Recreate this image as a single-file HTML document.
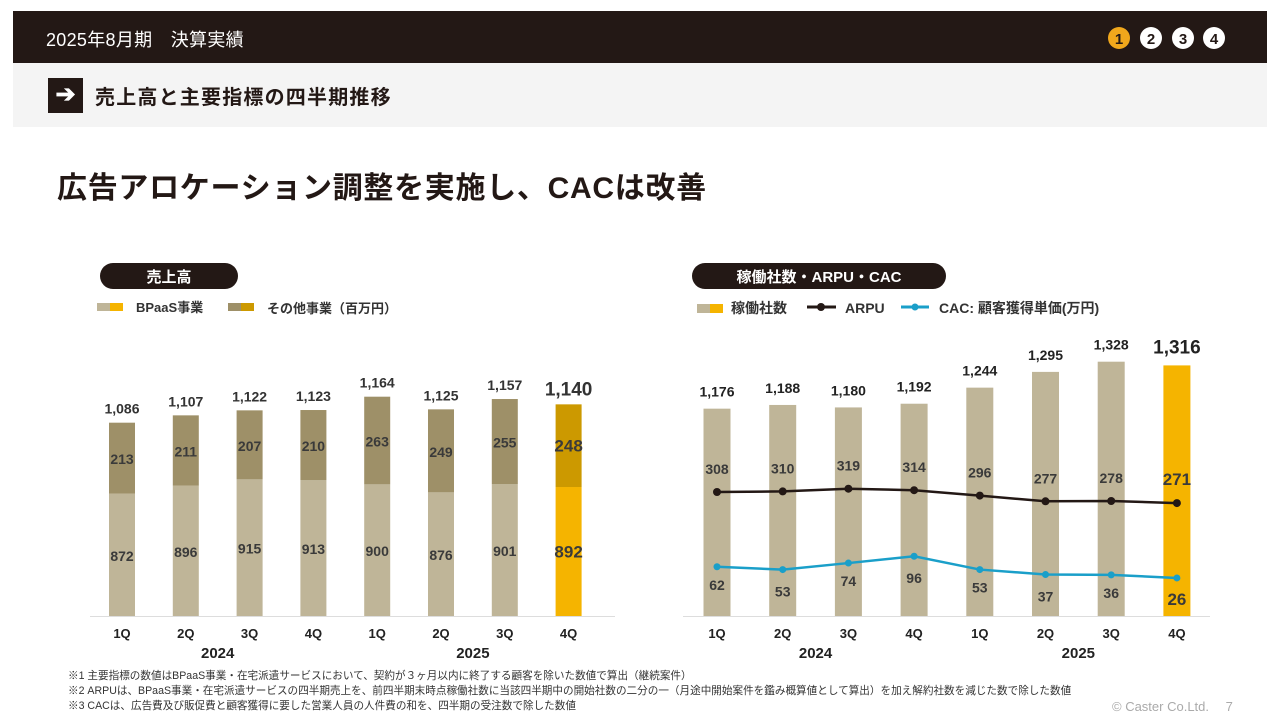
<!DOCTYPE html>
<html><head><meta charset="utf-8">
<style>
body{margin:0;width:1280px;height:720px;background:#fff;font-family:"Liberation Sans","Noto Sans CJK JP",sans-serif;overflow:hidden;position:relative}
.abs{position:absolute}
</style></head><body>
<div class="abs" style="left:13px;top:11px;width:1254px;height:52px;background:#231815"></div>
<div class="abs" style="left:46px;top:26px;color:#fff;font-size:18px;letter-spacing:0.3px">2025年8月期　決算実績</div>
<svg class="abs" style="left:1100px;top:24px" width="130" height="28">
<circle cx="19" cy="14" r="11" fill="#f0a71c"/><text x="19" y="20" text-anchor="middle" font-size="15" font-weight="bold" fill="#231815">1</text>
<circle cx="51" cy="14" r="11" fill="#fff"/><text x="51" y="20" text-anchor="middle" font-size="15" font-weight="bold" fill="#231815">2</text>
<circle cx="83" cy="14" r="11" fill="#fff"/><text x="83" y="20" text-anchor="middle" font-size="15" font-weight="bold" fill="#231815">3</text>
<circle cx="114" cy="14" r="11" fill="#fff"/><text x="114" y="20" text-anchor="middle" font-size="15" font-weight="bold" fill="#231815">4</text>
</svg>
<div class="abs" style="left:13px;top:63px;width:1254px;height:64px;background:#f4f4f4"></div>
<div class="abs" style="left:48px;top:78px;width:35px;height:35px;background:#231815;color:#fff;font-size:24px;font-weight:bold;text-align:center;line-height:34px">➔</div>
<div class="abs" style="left:95px;top:81px;font-size:20px;font-weight:bold;color:#231815;letter-spacing:1.2px">売上高と主要指標の四半期推移</div>
<div class="abs" style="left:57px;top:163px;font-size:30px;font-weight:bold;color:#231815;letter-spacing:0.7px">広告アロケーション調整を実施し、CACは改善</div>

<svg class="abs" style="left:0;top:0" width="1280" height="720" id="charts">
<rect x="100" y="263" width="138" height="26" rx="13" fill="#231815"/>
<text x="169" y="282" text-anchor="middle" fill="#fff" font-size="15" font-weight="bold">売上高</text>
<rect x="692" y="263" width="254" height="26" rx="13" fill="#231815"/>
<text x="819" y="282" text-anchor="middle" fill="#fff" font-size="15" font-weight="bold">稼働社数・ARPU・CAC</text>
<g font-size="13" font-weight="bold" fill="#333">
<rect x="97" y="303" width="13" height="8" fill="#bfb598"/><rect x="110" y="303" width="13" height="8" fill="#f5b400"/>
<text x="136" y="312">BPaaS事業</text>
<rect x="228" y="303" width="13" height="8" fill="#9e9068"/><rect x="241" y="303" width="13" height="8" fill="#cc9900"/>
<text x="267" y="313">その他事業（百万円）</text>
</g>
<g font-size="14" font-weight="bold" fill="#333">
<rect x="697" y="304" width="13" height="9" fill="#bfb598"/><rect x="710" y="304" width="13" height="9" fill="#f5b400"/>
<text x="731" y="313">稼働社数</text>
<line x1="807" y1="307" x2="836" y2="307" stroke="#231815" stroke-width="3"/><circle cx="821" cy="307" r="4" fill="#231815"/>
<text x="845" y="313">ARPU</text>
<line x1="901" y1="307" x2="929" y2="307" stroke="#1a9fc9" stroke-width="3"/><circle cx="915" cy="307" r="3.5" fill="#1a9fc9"/>
<text x="939" y="313">CAC: 顧客獲得単価(万円)</text>
</g>
<line x1="90" y1="616.5" x2="615" y2="616.5" stroke="#ddd" stroke-width="1"/>
<line x1="683" y1="616.5" x2="1210" y2="616.5" stroke="#ddd" stroke-width="1"/>
<g id="left"></g><g id="right"></g>
</svg>

<div class="abs" style="left:68px;top:669px;font-size:10.6px;line-height:15px;color:#333;white-space:nowrap">
※1 主要指標の数値はBPaaS事業・在宅派遣サービスにおいて、契約が３ヶ月以内に終了する顧客を除いた数値で算出（継続案件）<br>
※2 ARPUは、BPaaS事業・在宅派遣サービスの四半期売上を、前四半期末時点稼働社数に当該四半期中の開始社数の二分の一（月途中開始案件を鑑み概算値として算出）を加え解約社数を減じた数で除した数値<br>
※3 CACは、広告費及び販促費と顧客獲得に要した営業人員の人件費の和を、四半期の受注数で除した数値</div>
<div class="abs" style="left:1112px;top:696px;font-size:13px;color:#aaa">© Caster Co.Ltd.　 7</div>

<script>
const quarters=["1Q","2Q","3Q","4Q","1Q","2Q","3Q","4Q"];
const years=["2024","2025"];
const bpaas=[872,896,915,913,900,876,901,892];
const other=[213,211,207,210,263,249,255,248];
const totals=[1086,1107,1122,1123,1164,1125,1157,1140];
const clients=[1176,1188,1180,1192,1244,1295,1328,1316];
const arpu=[308,310,319,314,296,277,278,271];
const cac=[62,53,74,96,53,37,36,26];
const NS="http://www.w3.org/2000/svg";
function mk(parent,tag,attrs,txt){const e=document.createElementNS(NS,tag);for(const k in attrs)e.setAttribute(k,attrs[k]);if(txt!==undefined)e.textContent=txt;parent.appendChild(e);return e;}
const base=616;
const lx=i=>122+i*63.8;
const ly=v=>base-(v-505)*0.3333;
const rx=i=>717+i*65.7;
const ry=v=>base-(v-505)*0.309;
const ay=v=>584.4-0.3*v;
const cy=v=>586-0.31*v;
const L=document.getElementById('left'),R=document.getElementById('right');
quarters.forEach((q,i)=>{
  const last=i===7,x=lx(i),w=26;
  const yb=ly(bpaas[i]);const yt=yb-other[i]*0.3333;
  let r=mk(L,'rect',{x:x-w/2,y:yb,width:w,height:base-yb,fill:last?'#f5b400':'#bfb598'});
  
  r=mk(L,'rect',{x:x-w/2,y:yt,width:w,height:yb-yt,fill:last?'#cc9900':'#9e9068'});
  
  const fs=last?17:14;
  mk(L,'text',{x:x,y:(yb+base)/2+6,'text-anchor':'middle','font-size':fs,'font-weight':'bold',fill:'#3a3a3a'},bpaas[i]);
  mk(L,'text',{x:x,y:(yt+yb)/2+6,'text-anchor':'middle','font-size':fs,'font-weight':'bold',fill:'#3a3a3a'},other[i]);
  mk(L,'text',{x:x,y:yt-9,'text-anchor':'middle','font-size':last?19:14,'font-weight':'bold',fill:'#333'},totals[i].toLocaleString('en-US'));
  mk(L,'text',{x:x,y:638,'text-anchor':'middle','font-size':13,'font-weight':'bold',fill:'#222'},q);
  const X=rx(i),yc=ry(clients[i]);
  r=mk(R,'rect',{x:X-13.5,y:yc,width:27,height:base-yc,fill:last?'#f5b400':'#bfb598'});
  
  mk(R,'text',{x:X,y:yc-12,'text-anchor':'middle','font-size':last?19:14,'font-weight':'bold',fill:'#222'},clients[i].toLocaleString('en-US'));
  mk(R,'text',{x:X,y:638,'text-anchor':'middle','font-size':13,'font-weight':'bold',fill:'#222'},q);
});
years.forEach((y,j)=>{
  mk(L,'text',{x:(lx(j*4+1)+lx(j*4+2))/2,y:658,'text-anchor':'middle','font-size':15,'font-weight':'bold',fill:'#222'},y);
  mk(R,'text',{x:(rx(j*4+1)+rx(j*4+2))/2,y:658,'text-anchor':'middle','font-size':15,'font-weight':'bold',fill:'#222'},y);
});
let p=mk(R,'polyline',{points:arpu.map((v,i)=>rx(i)+','+ay(v)).join(' '),fill:'none',stroke:'#231815','stroke-width':2.5});

p=mk(R,'polyline',{points:cac.map((v,i)=>rx(i)+','+cy(v)).join(' '),fill:'none',stroke:'#1a9fc9','stroke-width':2.5});

arpu.forEach((v,i)=>{
  const c=mk(R,'circle',{cx:rx(i),cy:ay(v),r:4,fill:'#231815'});
  
  mk(R,'text',{x:rx(i),y:ay(v)-18,'text-anchor':'middle','font-size':i===7?17:14,'font-weight':'bold',fill:'#3a3a3a'},v);
});
cac.forEach((v,i)=>{
  const c=mk(R,'circle',{cx:rx(i),cy:cy(v),r:3.5,fill:'#1a9fc9'});
  
  mk(R,'text',{x:rx(i),y:cy(v)+i%2*4+23,'text-anchor':'middle','font-size':i===7?17:14,'font-weight':'bold',fill:'#3a3a3a'},v);
});
</script>
</body></html>
